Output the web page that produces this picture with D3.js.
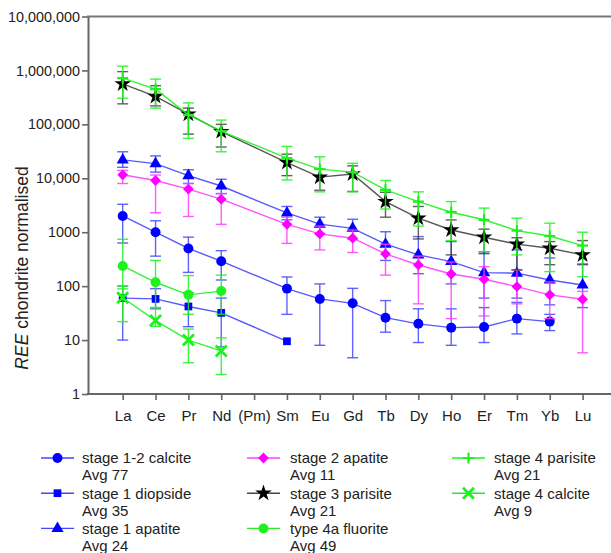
<!DOCTYPE html>
<html>
<head>
<meta charset="utf-8">
<script src="https://cdn.jsdelivr.net/npm/d3@7"></script>
<style>
  body { margin: 0; background: #fff; }
  text { font-family: Arial, "Liberation Sans", sans-serif; fill: #222; }
</style>
</head>
<body>
<div id="chart"></div>
<script>
// REE elements on the x axis
const elements = ['La', 'Ce', 'Pr', 'Nd', '(Pm)', 'Sm', 'Eu', 'Gd', 'Tb', 'Dy', 'Ho', 'Er', 'Tm', 'Yb', 'Lu'];
const yTicks = [1, 10, 100, 1000, 10000, 100000, 1000000, 10000000];
const yTickLabels = ['1', '10', '100', '1000', '10,000', '100,000', '1,000,000', '10,000,000'];

// stage 1-2 calcite
const calcite12 = [2000, 1000, 500, 290, null, 90, 58, 48, 26, 20, 17, 17.5, 25, 22, null];
const calcite12Lo = [630, 360, 180, 130, null, 30, 8, 4.7, 14, 9, 8, 9, 13, 15, null];
const calcite12Hi = [3300, 1630, 810, 455, null, 148, 110, 91, 54, 38, 38, 40, 50, 30, null];
// stage 1 diopside
const diopside1 = [60, 58, 42, 32, null, 9.5, null, null, null, null, null, null, null, null, null];
const diopside1Lo = [10, 38, 17.7, 7.5, null, null, null, null, null, null, null, null, null, null, null];
const diopside1Hi = [100, 90, 75, 60, null, null, null, null, null, null, null, null, null, null, null];
// stage 1 apatite
const apatite1 = [21900, 18700, 11200, 7200, null, 2280, 1410, 1180, 600, 380, 285, 178, 174, 130, 105];
const apatite1Lo = [16000, 13000, 8000, 5200, null, 1700, 950, 750, 300, 170, 110, 60, 60, 45, 40];
const apatite1Hi = [31000, 26000, 14400, 9600, null, 3000, 1900, 1740, 1020, 830, 670, 430, 470, 333, 250];
// stage 2 apatite
const apatite2 = [11600, 9100, 6300, 4100, null, 1400, 930, 775, 395, 247, 168, 134, 98, 69, 57];
const apatite2Lo = [8000, 2300, 1960, 1400, null, 620, 470, 420, 160, 47, 25, 28, 47, 25, 5.8];
const apatite2Hi = [14000, 11500, 8000, 5200, null, 1900, 1300, 1100, 600, 360, 280, 230, 200, 120, 80];
// stage 3 parisite
const parisite3 = [563000, 330000, 155000, 73500, null, 19600, 10500, 12000, 3700, 1820, 1100, 805, 600, 505, 380];
const parisite3Lo = [240000, 220000, 66000, 38000, null, 11200, 6000, 5700, 1900, 750, 380, 400, 200, 250, 257];
const parisite3Hi = [950000, 520000, 200000, 100000, null, 28000, 15000, 17000, 5500, 3000, 1690, 1140, 790, 670, 700];
// type 4a fluorite
const fluorite4a = [237, 118, 69, 81, null, null, null, null, null, null, null, null, null, null, null];
const fluorite4aLo = [89, 40, 30, 30, null, null, null, null, null, null, null, null, null, null, null];
const fluorite4aHi = [740, 300, 157, 160, null, null, null, null, null, null, null, null, null, null, null];
// stage 4 parisite
const parisite4 = [720000, 450000, 150000, 75000, null, 23600, 14800, 13000, 6100, 3700, 2350, 1700, 1070, 850, 565];
const parisite4Lo = [305000, 200000, 55000, 31000, null, 9300, 5600, 5600, 2700, 1300, 700, 437, 380, 186, 150];
const parisite4Hi = [1200000, 690000, 250000, 120000, null, 39000, 25000, 19000, 9100, 5600, 3700, 2800, 1820, 1470, 1000];
// stage 4 calcite
const calcite4 = [61, 23, 10, 6.3, null, null, null, null, null, null, null, null, null, null, null];
const calcite4Lo = [22, 18, 3.8, 2.3, null, null, null, null, null, null, null, null, null, null, null];
const calcite4Hi = [100, 40, 16, 11, null, null, null, null, null, null, null, null, null, null, null];

const BLUE = '#0000ff', MAG = '#ff00ff', GREEN = '#1ef21e', BLACK = '#000';

// series list, in legend order (later ones drawn on top)
const series = [
    {name: 'stage 1-2 calcite', avg: 'Avg 77', v: calcite12, lo: calcite12Lo, hi: calcite12Hi, color: BLUE, line: '#4646ff', marker: 'circle', col: 0, row: 0},
    {name: 'stage 1 diopside', avg: 'Avg 35', v: diopside1, lo: diopside1Lo, hi: diopside1Hi, color: BLUE, line: '#4646ff', marker: 'square', col: 0, row: 1},
    {name: 'stage 1 apatite', avg: 'Avg 24', v: apatite1, lo: apatite1Lo, hi: apatite1Hi, color: BLUE, line: '#4646ff', marker: 'triangle', col: 0, row: 2},
    {name: 'stage 2 apatite', avg: 'Avg 11', v: apatite2, lo: apatite2Lo, hi: apatite2Hi, color: MAG, line: '#ff40ff', marker: 'diamond', col: 1, row: 0},
    {name: 'stage 3 parisite', avg: 'Avg 21', v: parisite3, lo: parisite3Lo, hi: parisite3Hi, color: BLACK, line: '#444', marker: 'star', col: 1, row: 1},
    {name: 'type 4a fluorite', avg: 'Avg 49', v: fluorite4a, lo: fluorite4aLo, hi: fluorite4aHi, color: GREEN, line: GREEN, marker: 'circle', col: 1, row: 2},
    {name: 'stage 4 parisite', avg: 'Avg 21', v: parisite4, lo: parisite4Lo, hi: parisite4Hi, color: GREEN, line: GREEN, marker: 'plus', col: 2, row: 0},
    {name: 'stage 4 calcite', avg: 'Avg 9', v: calcite4, lo: calcite4Lo, hi: calcite4Hi, color: GREEN, line: GREEN, marker: 'cross', col: 2, row: 1}
];

const width = 611, height = 553;
const axisLeftX = 88, axisBottomY = 394, axisTopY = 16.5;

const svg = d3.select('#chart').append('svg')
    .attr('width', width)
    .attr('height', height);

const x = d3.scalePoint().domain(elements).range([122.7, 582.6]);
const y = d3.scaleLog().domain([1, 1e7]).range([axisBottomY, axisTopY]);

// axes
const yAxis = svg.append('g')
    .attr('transform', `translate(${axisLeftX},0)`)
    .call(d3.axisLeft(y).tickValues(yTicks).tickFormat((d, i) => yTickLabels[i]).tickSize(6).tickSizeOuter(0).tickPadding(2));
yAxis.select('.domain').attr('stroke', '#666').attr('stroke-width', 2);
yAxis.selectAll('.tick line').attr('stroke', '#666').attr('stroke-width', 1.6);
yAxis.selectAll('.tick text').attr('font-size', 14.4).attr('fill', '#222');

const xAxis = svg.append('g')
    .attr('transform', `translate(0,${axisBottomY})`)
    .call(d3.axisBottom(x).tickSize(6).tickSizeOuter(0).tickPadding(10));
xAxis.select('.domain').remove();
xAxis.selectAll('.tick line').attr('stroke', '#666').attr('stroke-width', 1.6);
xAxis.selectAll('.tick text').attr('font-size', 15).attr('fill', '#222');

// bottom and top frame lines
svg.append('line').attr('x1', axisLeftX - 1).attr('x2', width).attr('y1', axisBottomY).attr('y2', axisBottomY)
    .attr('stroke', '#666').attr('stroke-width', 2);
svg.append('line').attr('x1', axisLeftX - 1).attr('x2', width).attr('y1', axisTopY).attr('y2', axisTopY)
    .attr('stroke', '#777').attr('stroke-width', 2);

// y axis title
const yTitle = svg.append('text')
    .attr('transform', 'translate(28,268) rotate(-90)')
    .attr('text-anchor', 'middle')
    .attr('font-size', 17.5);
yTitle.append('tspan').attr('font-style', 'italic').text('REE');
yTitle.append('tspan').text(' chondrite normalised');

// marker drawing
function drawMarker(g, type, color) {
    if (type === 'circle') {
        g.append('path').attr('d', d3.symbol(d3.symbolCircle, 78)()).attr('fill', color);
    } else if (type === 'square') {
        g.append('path').attr('d', d3.symbol(d3.symbolSquare, 60)()).attr('fill', color);
    } else if (type === 'triangle') {
        g.append('path').attr('d', d3.symbol(d3.symbolTriangle, 64)()).attr('fill', color);
    } else if (type === 'diamond') {
        g.append('path').attr('d', d3.symbol(d3.symbolSquare, 58)()).attr('transform', 'rotate(45)').attr('fill', color);
    } else if (type === 'star') {
        g.append('path').attr('d', d3.symbol(d3.symbolStar, 85)()).attr('fill', color);
    } else if (type === 'plus') {
        g.append('path').attr('d', 'M-5.5,0H5.5M0,-5.5V5.5').attr('stroke', color).attr('stroke-width', 2.2);
    } else if (type === 'cross') {
        g.append('path').attr('d', 'M-5.5,-5.5L5.5,5.5M-5.5,5.5L5.5,-5.5').attr('stroke', color).attr('stroke-width', 2.8);
    }
}

const plot = svg.append('g');
const capW = 5.5;

series.forEach(s => {
    const pts = elements.map((e, i) => ({e: e, v: s.v[i], lo: s.lo[i], hi: s.hi[i]})).filter(d => d.v != null);
    const g = plot.append('g');

    // error bars
    const eb = g.selectAll('.eb')
        .data(pts.filter(d => d.lo != null && d.hi != null))
        .enter().append('g')
        .attr('stroke', s.line)
        .attr('stroke-width', 1.4)
        .attr('stroke-opacity', 0.85);
    eb.append('line')
        .attr('x1', d => x(d.e)).attr('x2', d => x(d.e))
        .attr('y1', d => y(d.lo)).attr('y2', d => y(d.hi));
    eb.append('line')
        .attr('x1', d => x(d.e) - capW).attr('x2', d => x(d.e) + capW)
        .attr('y1', d => y(d.lo)).attr('y2', d => y(d.lo));
    eb.append('line')
        .attr('x1', d => x(d.e) - capW).attr('x2', d => x(d.e) + capW)
        .attr('y1', d => y(d.hi)).attr('y2', d => y(d.hi));

    // connecting line
    g.append('path')
        .datum(pts)
        .attr('fill', 'none')
        .attr('stroke', s.line)
        .attr('stroke-width', 1.4)
        .attr('stroke-opacity', 0.9)
        .attr('d', d3.line().x(d => x(d.e)).y(d => y(d.v)));

    // markers
    g.selectAll('.mk')
        .data(pts)
        .enter().append('g')
        .attr('transform', d => `translate(${x(d.e)},${y(d.v)})`)
        .each(function() { drawMarker(d3.select(this), s.marker, s.color); });
});

// legend
const legendCols = [{line: 41, text: 82}, {line: 247, text: 290}, {line: 452, text: 494}];
const legendTop = 458, rowStep = 35.2, subStep = 17;
const legend = svg.append('g');
series.forEach(s => {
    const c = legendCols[s.col];
    const cy = legendTop + s.row * rowStep;
    const lg = legend.append('g');
    lg.append('line')
        .attr('x1', c.line).attr('x2', c.line + 33)
        .attr('y1', cy).attr('y2', cy)
        .attr('stroke', s.line).attr('stroke-width', 1.4);
    drawMarker(lg.append('g').attr('transform', `translate(${c.line + 16.5},${cy})`), s.marker, s.color);
    lg.append('text')
        .attr('x', c.text).attr('y', cy + 5.3)
        .attr('font-size', 15)
        .text(s.name);
    lg.append('text')
        .attr('x', c.text).attr('y', cy + subStep + 5.3)
        .attr('font-size', 15)
        .text(s.avg);
});
</script>
</body>
</html>
